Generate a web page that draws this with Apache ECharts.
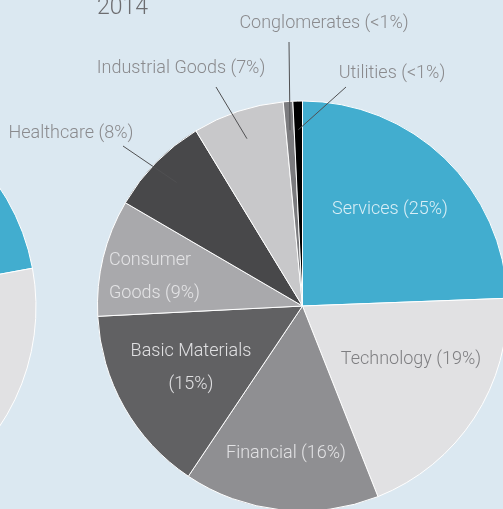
<html>
<head>
    <meta charset="utf-8">
    <title>2014</title>
    <script src="https://cdn.jsdelivr.net/npm/echarts@6/dist/echarts.min.js"></script>
    <style>
        html, body { margin: 0; padding: 0; background: #dbe8f1; }
    </style>
</head>
<body>
    <div id="main" style="width:503px;height:509px"></div>
    <script type="text/javascript">
        // 2014 sector shares (slice sizes, label text as printed)
        var sectors = ['Services', 'Technology', 'Financial', 'Basic Materials', 'Consumer Goods',
                       'Healthcare', 'Industrial Goods', 'Conglomerates', 'Utilities'];
        var shares2014 = [24.4, 19.6, 15.4, 14.8, 9.2, 7.9, 7.2, 0.75, 0.75];
        var pctText = ['25%', '19%', '16%', '15%', '9%', '8%', '7%', '<1%', '<1%'];
        // left pie (previous year), only its first two slices are on screen
        var shares2013 = [22.1, 20.0, 16.0, 15.0, 9.0, 8.0, 8.0, 1.0, 0.9];

        var colors = ['#42adcf', '#e1e1e3', '#8f8f92', '#616163', '#a9a9ac',
                      '#48484a', '#c8c8ca', '#7b7b7e', '#000000'];
        var textColors = ['#d9eef6', '#7e7e81', '#e2e2e4', '#e0e0e2', '#e4e4e6',
                          '#8a8a8d', '#8a8a8d', '#8a8a8d', '#8a8a8d'];
        // label spots [x, y, align]
        var labelSpots = [[390, 209], [411, 359], [286, 453], [191, 368], [109, 277, 'left'],
                          [71, 133], [181, 68], [324, 23], [392, 73]];
        var lineEnds = [null, null, null, null, null, [123, 146], [216, 87], [289, 42], [346, 87]];

        var FONT = 'Roboto, "Helvetica Neue", sans-serif';
        var myChart = echarts.init(document.getElementById('main'));
        var C = [302.5, 306], R = 205;

        // mid angle of each slice (pie runs clockwise from 12 o'clock)
        var total = shares2014.reduce(function (a, b) { return a + b; }, 0);
        var midAngles = [], acc = 0;
        shares2014.forEach(function (v) {
            midAngles.push(90 - (acc + v / 2) / total * 360);
            acc += v;
        });

        // leader lines: from inside the slice (on its mid angle) out to the label
        var leaders = [];
        lineEnds.forEach(function (end, i) {
            if (!end) return;
            var a = midAngles[i] * Math.PI / 180;
            leaders.push({
                type: 'line',
                z: 100,
                silent: true,
                shape: {
                    x1: C[0] + 0.86 * R * Math.cos(a), y1: C[1] - 0.86 * R * Math.sin(a),
                    x2: end[0], y2: end[1]
                },
                style: { stroke: '#505052', lineWidth: 1 }
            });
        });

        var data = sectors.map(function (n, i) {
            return {
                name: n,
                value: shares2014[i],
                itemStyle: { color: colors[i] },
                label: {
                    position: lineEnds[i] ? 'outside' : 'inside',
                    color: textColors[i]
                }
            };
        });

        var option = {
            backgroundColor: '#dbe8f1',
            animation: false,
            title: {
                text: '2014', left: 92, top: -8,
                textStyle: { fontFamily: FONT, fontWeight: 300, fontSize: 23, color: '#6d6d70' }
            },
            graphic: leaders,
            series: [
                {
                    type: 'pie',
                    silent: true,
                    center: [-178, 307],
                    radius: 214,
                    startAngle: 90,
                    label: { show: false },
                    itemStyle: { borderColor: '#ffffff', borderWidth: 1 },
                    data: sectors.map(function (n, i) {
                        return { name: n, value: shares2013[i], itemStyle: { color: colors[i] } };
                    })
                },
                {
                    type: 'pie',
                    silent: true,
                    center: C,
                    radius: R,
                    startAngle: 90,
                    avoidLabelOverlap: false,
                    itemStyle: { borderColor: '#ffffff', borderWidth: 1 },
                    label: {
                        show: true,
                        fontFamily: FONT,
                        fontWeight: 300,
                        fontSize: 18,
                        lineHeight: 33,
                        formatter: function (p) {
                            var t = p.name + ' (' + pctText[p.dataIndex] + ')';
                            if (p.name === 'Basic Materials') t = 'Basic Materials\n(' + pctText[p.dataIndex] + ')';
                            if (p.name === 'Consumer Goods') t = 'Consumer\nGoods (' + pctText[p.dataIndex] + ')';
                            return t;
                        }
                    },
                    labelLine: { show: false },
                    labelLayout: function (p) {
                        var s = labelSpots[p.dataIndex];
                        return { x: s[0], y: s[1], align: s[2] || 'center', verticalAlign: 'middle' };
                    },
                    data: data
                }
            ]
        };
        myChart.setOption(option);
    </script>
</body>
</html>
